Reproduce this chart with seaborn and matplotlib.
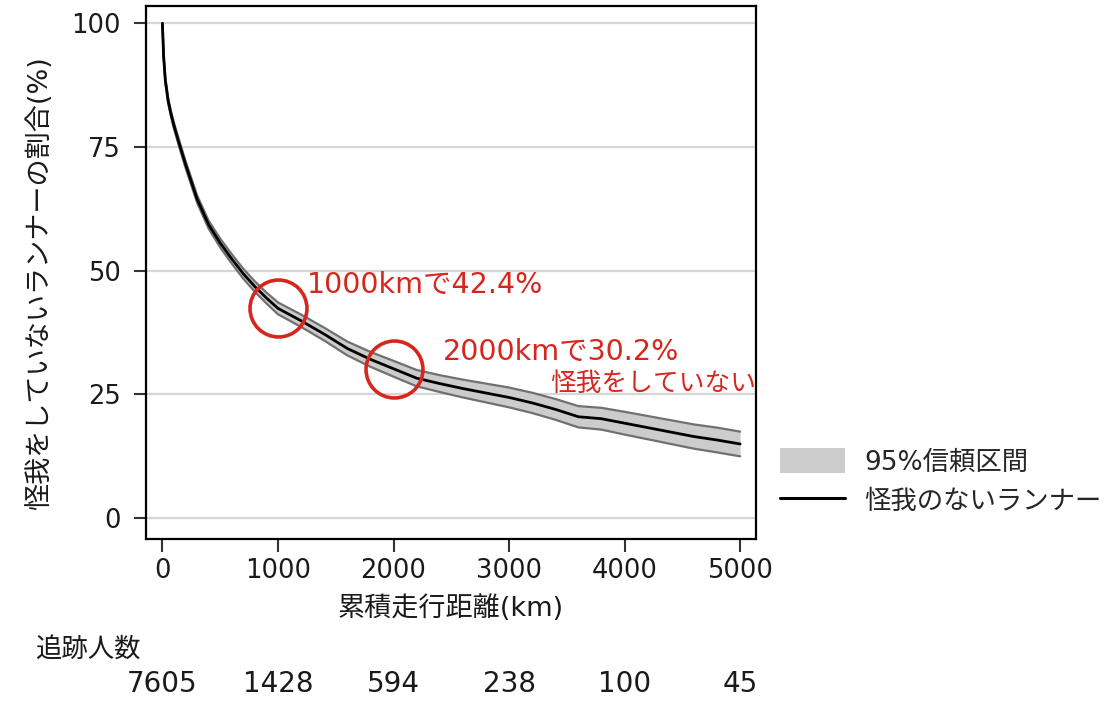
import matplotlib
matplotlib.use("Agg")
import matplotlib.pyplot as plt
import matplotlib.transforms as mtransforms
from matplotlib.patches import Patch
from matplotlib.lines import Line2D
import numpy as np
import pandas as pd
import seaborn as sns

# ---------------- data ----------------
distance_km = [0, 10, 25, 50, 75, 100, 150, 200, 300, 400, 500, 600, 700, 800, 900,
               1000, 1200, 1400, 1600, 1800, 2000, 2200, 2400, 2600, 2800, 3000,
               3200, 3400, 3600, 3800, 4000, 4200, 4400, 4600, 4800, 5000]
survival_pct = [100.0, 93.5, 88.5, 84.3, 81.6, 79.3, 75.3, 71.5, 64.5, 59.3, 55.6,
                52.4, 49.4, 46.8, 44.5, 42.4, 39.9, 37.2, 34.3, 32.1, 30.2, 28.3,
                27.2, 26.2, 25.3, 24.4, 23.3, 22.0, 20.5, 20.1, 19.2, 18.3, 17.4,
                16.5, 15.8, 15.0]
ci_lower = [100.0, 93.2, 88.1, 83.8, 81.05, 78.7, 74.65, 70.8, 63.75, 58.5, 54.7,
            51.45, 48.4, 45.75, 43.4, 41.2, 38.65, 35.9, 32.9, 30.6, 28.6, 26.65,
            25.5, 24.4, 23.4, 22.4, 21.25, 19.9, 18.35, 17.9, 16.9, 15.95, 15.0,
            14.05, 13.3, 12.5]
ci_upper = [100.0, 93.8, 88.9, 84.8, 82.15, 79.9, 75.95, 72.2, 65.25, 60.1, 56.5,
            53.35, 50.4, 47.85, 45.6, 43.6, 41.15, 38.5, 35.7, 33.6, 31.8, 29.95,
            28.9, 28.0, 27.2, 26.4, 25.35, 24.1, 22.65, 22.3, 21.5, 20.65, 19.8,
            18.95, 18.3, 17.5]

highlight_km = [1000, 2000]
highlight_pct = [42.4, 30.2]
highlight_labels = ["1000kmで42.4%", "2000kmで30.2%"]
highlight_note = "怪我をしていない"

x_ticks = [0, 1000, 2000, 3000, 4000, 5000]
y_ticks = [0, 25, 50, 75, 100]

at_risk_title = "追跡人数"
at_risk_km = [0, 1000, 2000, 3000, 4000, 5000]
at_risk_n = [7605, 1428, 594, 238, 100, 45]

x_label = "累積走行距離(km)"
y_label = "怪我をしていないランナーの割合(%)"
legend_labels = ["95%信頼区間", "怪我のないランナー"]

# ---------------- style ----------------
sns.set_theme(style="white")
plt.rcParams["font.family"] = ["DejaVu Sans", "Noto Sans CJK JP"]

RED = "#d7261e"
BAND = "#cccccc"
BAND_EDGE = "#707070"
TXT = "#1a1a1a"

fig = plt.figure(figsize=(11.07, 7.2), dpi=100)
ax = fig.add_axes([0.1319, 0.2514, 0.5511, 0.7403])

df = pd.DataFrame({"km": distance_km, "surv": survival_pct,
                   "lo": ci_lower, "hi": ci_upper})

ax.fill_between(df["km"], df["lo"], df["hi"], color=BAND, lw=0, zorder=2)
sns.lineplot(data=df, x="km", y="lo", color=BAND_EDGE, lw=1.6, ax=ax, zorder=3)
sns.lineplot(data=df, x="km", y="hi", color=BAND_EDGE, lw=1.6, ax=ax, zorder=3)
sns.lineplot(data=df, x="km", y="surv", color="black", lw=2.0, ax=ax, zorder=4)

# highlight circles
ax.plot(highlight_km, highlight_pct, linestyle="none", marker="o", ms=41,
        mfc="none", mec=RED, mew=2.6, zorder=5)

# annotations
offsets = [(29, 23), (49, 17)]
for km, pct, txt, off in zip(highlight_km, highlight_pct, highlight_labels, offsets):
    ax.annotate(txt, xy=(km, pct), xytext=off, textcoords="offset pixels",
                color=RED, fontsize=20.5, ha="left", va="center", zorder=6)
ax.annotate(highlight_note, xy=(highlight_km[1], highlight_pct[1]),
            xytext=(363, -15), textcoords="offset pixels",
            color=RED, fontsize=18.5, ha="right", va="center", zorder=6)

# axes limits / ticks
ax.set_xlim(-142, 5138)
ax.set_ylim(-4.2, 103.5)
ax.set_xticks(x_ticks)
ax.set_yticks(y_ticks)
ax.tick_params(axis="both", which="major", bottom=True, left=True,
               direction="out", length=9, width=1.5, color="#333333",
               labelsize=18.5, labelcolor=TXT)
ax.tick_params(axis="x", pad=5)
ax.tick_params(axis="y", pad=9)

ax.yaxis.grid(True, color="#d6d6d6", lw=1.6)
ax.xaxis.grid(False)
ax.set_axisbelow(True)
for s in ax.spines.values():
    s.set_color("black")
    s.set_linewidth(1.6)
    s.set_visible(True)

ax.set_xlabel(x_label, fontsize=19.5, color=TXT)
ax.set_ylabel(y_label, fontsize=19.5, color=TXT)
ax.xaxis.set_label_coords(0.5, -0.105)
ax.yaxis.set_label_coords(-0.152, 0.48)

# legend
handles = [Patch(facecolor=BAND, edgecolor="none", label=legend_labels[0]),
           Line2D([], [], color="black", lw=2.2, label=legend_labels[1])]
fig.legend(handles=handles, loc="upper left", bbox_to_anchor=(0.7046, 0.378),
           frameon=False, fontsize=19, handlelength=2.45, handleheight=1.1,
           handletextpad=0.75, labelspacing=0.45, borderpad=0, borderaxespad=0)

# number at risk
fig.text(0.0316, 0.097, at_risk_title, fontsize=19, ha="left", va="center",
         color=TXT)
trans = mtransforms.blended_transform_factory(ax.transData, fig.transFigure)
for km, n in zip(at_risk_km, at_risk_n):
    ax.text(km, 0.05, str(n), transform=trans, fontsize=20, ha="center",
            va="center", color=TXT, clip_on=False)

fig.savefig("out.png", dpi=100)
